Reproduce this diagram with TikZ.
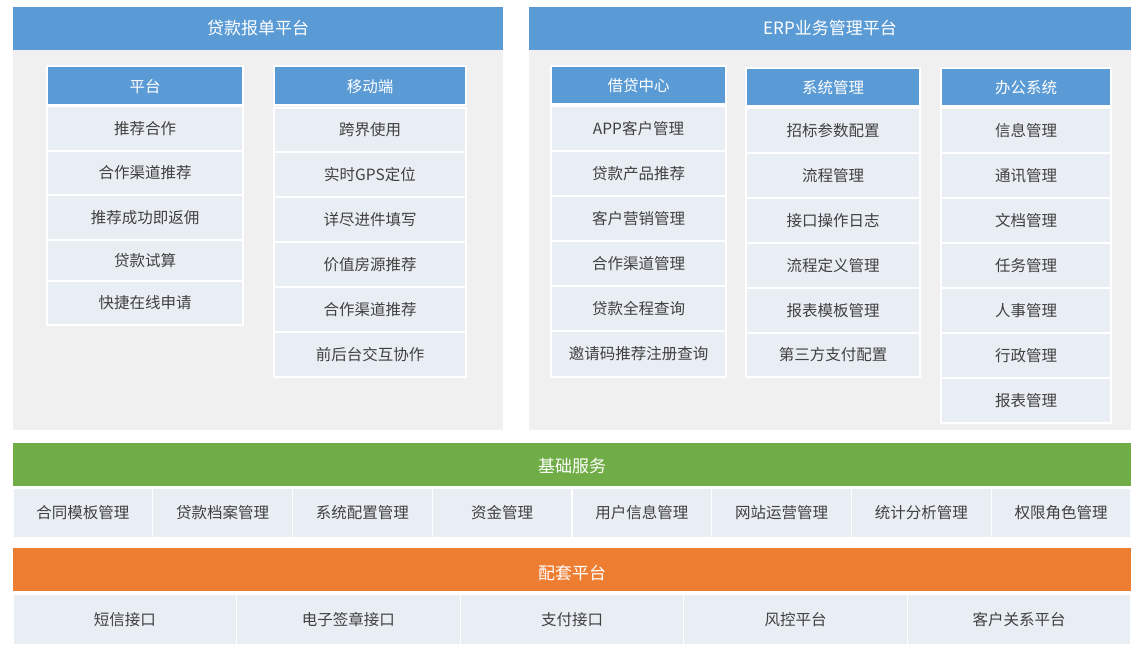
\documentclass[tikz,border=0pt]{standalone}
\usepackage{fontspec}
\setmainfont{Noto Sans CJK SC}
\begin{document}
\begin{tikzpicture}[x=1pt,y=-1pt,
  hdr/.style={draw=none,text=white,font=\fontsize{17}{19}\selectfont},
  sub/.style={fill=blue1,draw=white,line width=1.2pt},
  cell/.style={fill=cellc,draw=white,line width=1.2pt},
  celltext/.style={text=black!75,font=\fontsize{15.5}{17}\selectfont},
  subtext/.style={text=white,font=\fontsize{15.5}{17}\selectfont},
  panel/.style={fill=panelc,draw=none}]
\definecolor{blue1}{HTML}{5B9BD5}
\definecolor{panelc}{HTML}{F0F0F0}
\definecolor{cellc}{HTML}{E9EEF4}
\definecolor{green1}{HTML}{70AD47}
\definecolor{orange1}{HTML}{ED7D31}
\useasboundingbox (0,0) rectangle (1139,653);
\fill[white] (0,0) rectangle (1139,653);
% panels
\fill[panel] (13,50) rectangle (503,430);
\fill[panel] (529,50) rectangle (1131,430);
\fill[blue1] (13,7) rectangle (503,50);
\node[hdr] (h1) at (258,28.5) {贷款报单平台};
\fill[blue1] (529,7) rectangle (1131,50);
\node[hdr] (h2) at (830,28.5) {ERP业务管理平台};
\newcommand{\mycol}[5]{%
  \path[sub] ({#1},{#3}) rectangle ({#2},{#4});
  \node[subtext] at ({(#1+#2)/2},{(#3+#4)/2+1}) {#5};}
\newcommand{\mycell}[5]{%
  \path[cell] ({#1},{#3}) rectangle ({#2},{#4});
  \node[celltext] at ({(#1+#2)/2},{(#3+#4)/2}) {#5};}
\mycol{47}{243}{66}{105}{平台}
\mycell{47}{243}{106}{151}{推荐合作}
\mycell{47}{243}{151}{195}{合作渠道推荐}
\mycell{47}{243}{195}{240}{推荐成功即返佣}
\mycell{47}{243}{240}{281}{贷款试算}
\mycell{47}{243}{281}{325}{快捷在线申请}
\mycol{274}{466}{66}{105}{移动端}
\mycell{274}{466}{108}{152}{跨界使用}
\mycell{274}{466}{152}{197}{实时GPS定位}
\mycell{274}{466}{197}{242}{详尽进件填写}
\mycell{274}{466}{242}{287}{价值房源推荐}
\mycell{274}{466}{287}{332}{合作渠道推荐}
\mycell{274}{466}{332}{377}{前后台交互协作}
\mycol{551}{726}{66}{104}{借贷中心}
\mycell{551}{726}{106}{151}{APP客户管理}
\mycell{551}{726}{151}{196}{贷款产品推荐}
\mycell{551}{726}{196}{241}{客户营销管理}
\mycell{551}{726}{241}{286}{合作渠道管理}
\mycell{551}{726}{286}{331}{贷款全程查询}
\mycell{551}{726}{331}{377}{邀请码推荐注册查询}
\mycol{746}{920}{68}{106}{系统管理}
\mycell{746}{920}{108}{153}{招标参数配置}
\mycell{746}{920}{153}{198}{流程管理}
\mycell{746}{920}{198}{243}{接口操作日志}
\mycell{746}{920}{243}{288}{流程定义管理}
\mycell{746}{920}{288}{333}{报表模板管理}
\mycell{746}{920}{333}{377}{第三方支付配置}
\mycol{941}{1111}{68}{106}{办公系统}
\mycell{941}{1111}{108}{153}{信息管理}
\mycell{941}{1111}{153}{198}{通讯管理}
\mycell{941}{1111}{198}{243}{文档管理}
\mycell{941}{1111}{243}{288}{任务管理}
\mycell{941}{1111}{288}{333}{人事管理}
\mycell{941}{1111}{333}{378}{行政管理}
\mycell{941}{1111}{378}{423}{报表管理}
% base services
\fill[green1] (13,443) rectangle (1131,486);
\node[hdr] (g) at (572,466) {基础服务};
\foreach \t [count=\i from 0] in {合同模板管理,贷款档案管理,系统配置管理,资金管理,用户信息管理,网站运营管理,统计分析管理,权限角色管理}{
  \mycell{13+139.75*\i}{13+139.75*(\i+1)}{488}{538}{\t}}
% supporting
\fill[orange1] (13,548) rectangle (1131,591);
\node[hdr] (o) at (572,573) {配套平台};
\foreach \t [count=\i from 0] in {短信接口,电子签章接口,支付接口,风控平台,客户关系平台}{
  \mycell{13+223.6*\i}{13+223.6*(\i+1)}{594}{645}{\t}}
\end{tikzpicture}
\end{document}
